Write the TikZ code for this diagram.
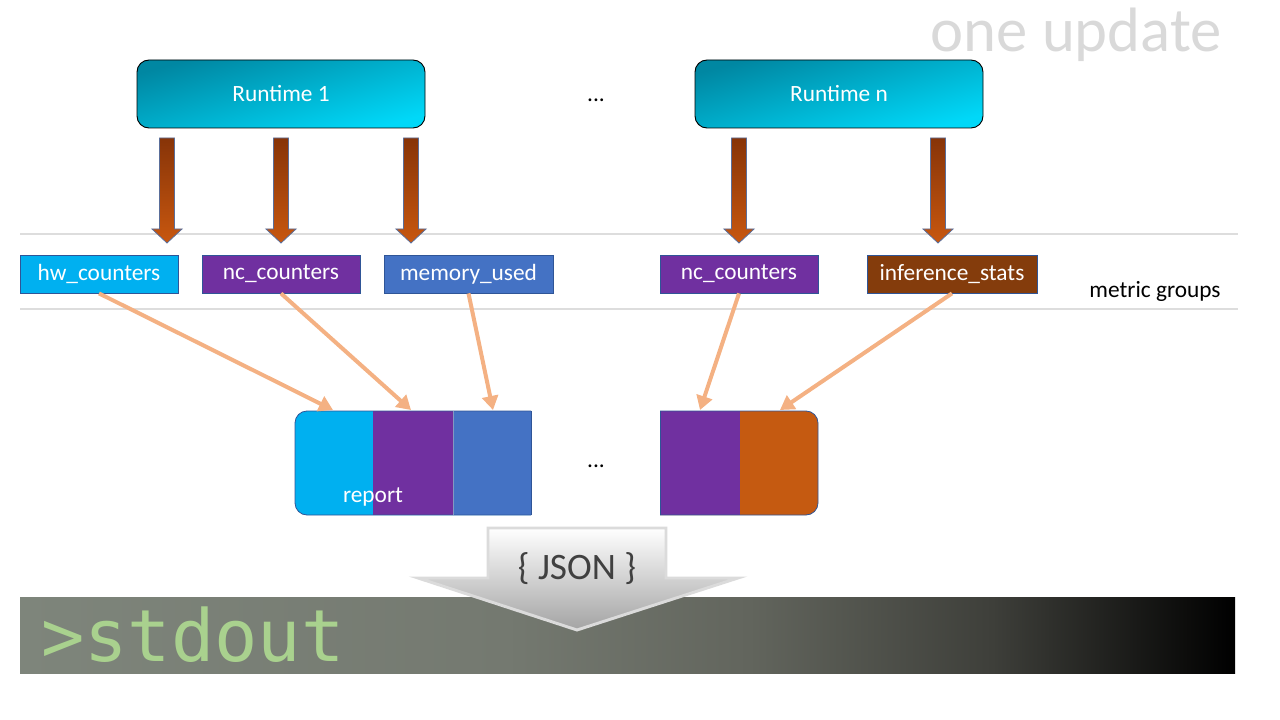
\documentclass[tikz,border=0pt]{standalone}
\usepackage{fontspec}
\setmainfont{Carlito}
\setmonofont{DejaVu Sans Mono}
\usetikzlibrary{arrows.meta}
\definecolor{cyanc}{HTML}{00B0F0}
\definecolor{purplec}{HTML}{7030A0}
\definecolor{bluec}{HTML}{4472C4}
\definecolor{brownc}{HTML}{843C0C}
\definecolor{orangec}{HTML}{C55A11}
\definecolor{peach}{HTML}{F4B183}
\definecolor{edgec}{HTML}{2F5597}
\definecolor{rtdark}{HTML}{0087A2}
\definecolor{rtlight}{HTML}{00D8F8}
\definecolor{brownTop}{HTML}{873408}
\definecolor{brownBot}{HTML}{C8570F}
\definecolor{arrowEdge}{HTML}{5A6E9A}
\definecolor{sA}{HTML}{7E857B}
\definecolor{sB}{HTML}{747970}
\definecolor{sC}{HTML}{62655D}
\definecolor{sD}{HTML}{3E3F3A}
\definecolor{greytext}{HTML}{D9D9D9}
\definecolor{rulec}{HTML}{DDDDDD}
\definecolor{jsontext}{HTML}{404040}
\definecolor{stdgreen}{HTML}{A9D18E}
\pgfdeclarehorizontalshading{stdoutshade}{100bp}{color(0bp)=(sA); color(25bp)=(sA); color(45bp)=(sB); color(55bp)=(sC); color(65bp)=(sD); color(75bp)=(black); color(100bp)=(black)}
\tikzset{
  runtime/.style={draw=black, line width=0.7pt, rounded corners=9pt,
    shading=axis, top color=rtdark, bottom color=rtlight, shading angle=15,
    minimum width=216pt, minimum height=51pt, text=white,
    font=\fontsize{17.5}{20}\selectfont},
  metric/.style={draw=edgec, line width=0.6pt, minimum height=28.5pt, inner sep=0pt,
    text=white, font=\fontsize{17.5}{20}\selectfont},
  plain/.style={font=\fontsize{17.5}{20}\selectfont, inner sep=0pt},
  feed/.style={draw=peach, line width=3pt, -{Triangle[length=10.5pt,width=12pt]}},
  brownarrow/.pic={\shadedraw[top color=brownTop, bottom color=brownBot, draw=arrowEdge, line width=0.6pt]
     (-7.5,0) -- (7.5,0) -- (7.5,91) -- (15,91) -- (0,105) -- (-15,91) -- (-7.5,91) -- cycle;}
}
\begin{document}
\begin{tikzpicture}[x=0.75pt, y=-0.75pt]
\useasboundingbox (0,0) rectangle (1280,720);

% title
\node[anchor=base east, inner sep=0pt, text=greytext, font=\fontsize{47}{50}\selectfont] (title) at (1222,52) {one update};

% guide lines
\draw[rulec, line width=0.8pt] (20,234) -- (1238,234);
\draw[rulec, line width=0.8pt] (20,309) -- (1238,309);

% runtimes
\node[runtime] (rt1) at (281,94) {Runtime 1};
\node[runtime] (rtn) at (839,94) {Runtime n};
\node[plain] (dots1) at (596,100) {...};

% block arrows
\pic at (167,138) {brownarrow};
\pic at (281,138) {brownarrow};
\pic at (411,138) {brownarrow};
\pic at (739,138) {brownarrow};
\pic at (938,138) {brownarrow};

% metric groups
\node[metric, fill=cyanc, minimum width=118.5pt] (hw) at (99,274) {hw\_counters};
\node[metric, fill=purplec, minimum width=118.5pt] (nc) at (281,274) {nc\_counters};
\node[metric, fill=bluec, minimum width=126.75pt] (mem) at (468.5,274) {memory\_used};
\node[metric, fill=purplec, minimum width=118.5pt] (nc2) at (739,274) {nc\_counters};
\node[metric, fill=brownc, minimum width=127.5pt] (inf) at (952,274) {inference\_stats};
\node[plain, anchor=base] (mg) at (1155,297) {metric groups};

% stdout bar
\shade[shading=stdoutshade] (20,597) rectangle (1235,673);
\node[anchor=base west, inner sep=0pt, text=stdgreen, font=\ttfamily\fontsize{54}{60}\selectfont] (std) at (41,661) {>stdout};

% JSON arrow
\shadedraw[top color=white, middle color=black!6, bottom color=black!36, draw=black!14, line width=2.2pt, line join=miter]
  (488,528) -- (666,528) -- (666,578) -- (738,578) -- (577,630) -- (418,578) -- (488,578) -- cycle;
\node[anchor=base, inner sep=0pt, text=jsontext, font=\fontsize{28}{30}\selectfont] (json) at (577,579) {\{ JSON \}};

% report 1
\begin{scope}
  \clip (288,404) rectangle (531,522);
  \fill[cyanc, rounded corners=9pt] (295,411) rectangle (600,515);
  \fill[purplec] (373,411) rectangle (453,515);
  \fill[bluec] (453,411) rectangle (600,515);
  \draw[edgec, line width=0.6pt, rounded corners=9pt] (295,411) rectangle (600,515);
\end{scope}
\draw[edgec, line width=0.6pt] (531,411) -- (531,515);
\draw[edgec!60, line width=0.4pt] (453,411) -- (453,515);
\node[anchor=base, inner sep=0pt, text=white, font=\fontsize{17.5}{20}\selectfont] (report) at (373,502) {report};
\node[plain] (dots2) at (596,466) {...};

% report n
\begin{scope}
  \clip (660,404) rectangle (825,522);
  \fill[orangec, rounded corners=9pt] (600,411) rectangle (818,515);
  \fill[purplec] (660,411) rectangle (740,515);
  \draw[edgec, line width=0.6pt, rounded corners=9pt] (600,411) rectangle (818,515);
\end{scope}
\draw[edgec, line width=0.6pt] (660,411) -- (660,515);

% feed arrows
\coordinate (t1) at (333,410);
\coordinate (t2) at (411,410);
\coordinate (t3) at (493,410);
\coordinate (t4) at (700,410);
\coordinate (t5) at (780,410);
\draw[feed] (hw.south) -- (t1);
\draw[feed] (nc.south) -- (t2);
\draw[feed] (mem.south) -- (t3);
\draw[feed] (nc2.south) -- (t4);
\draw[feed] (inf.south) -- (t5);
\end{tikzpicture}
\end{document}
